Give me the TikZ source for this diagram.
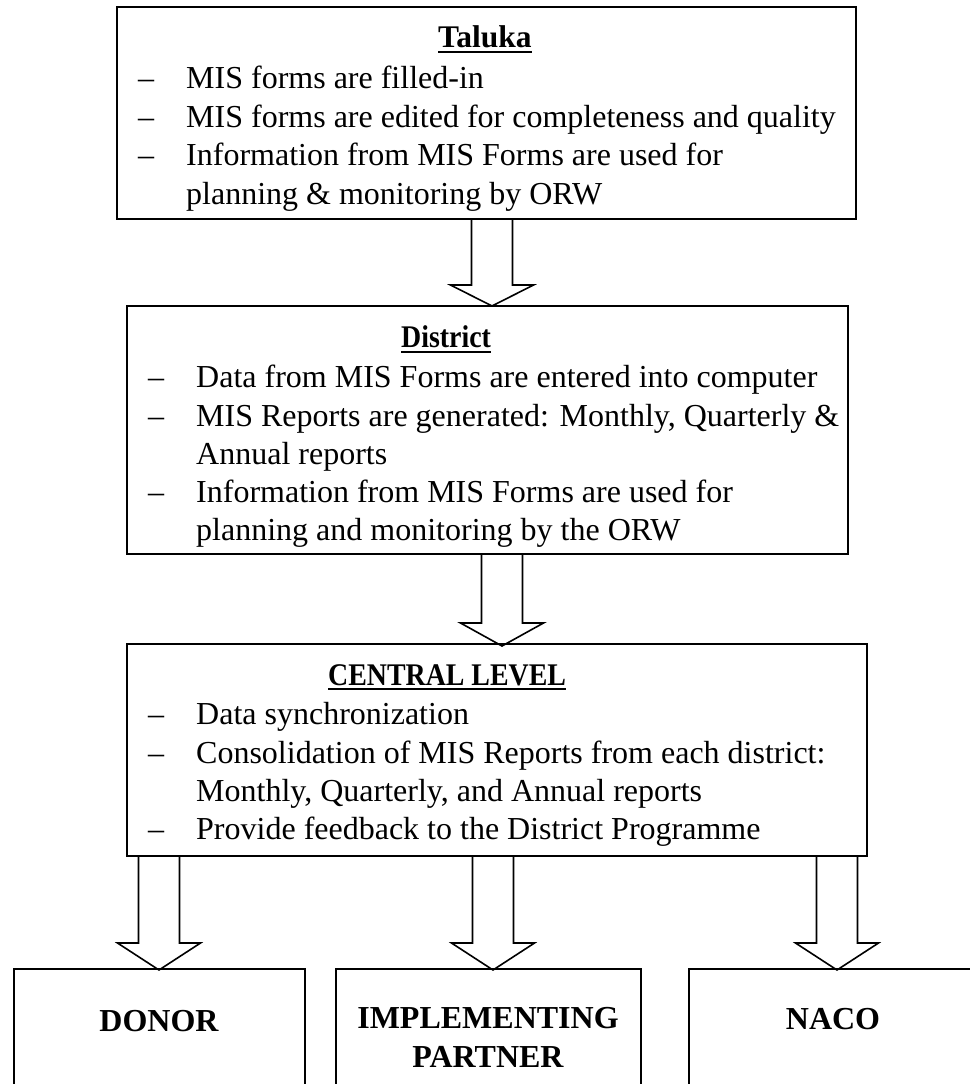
\documentclass[tikz,border=0pt]{standalone}
\usepackage{fontspec}
\setmainfont{Liberation Serif}
\newfontfamily\condserif{Liberation Serif}[FakeStretch=0.885]
\usetikzlibrary{calc}
\newcommand\blockarr[3]{% start coordinate, tip coordinate, head length
  \draw[arr] ([xshift=-20.5pt]#1) -- ([xshift=-20.5pt,yshift=#3]#2)
    -- ([xshift=-41.5pt,yshift=#3]#2) -- (#2)
    -- ([xshift=41.5pt,yshift=#3]#2) -- ([xshift=20.5pt,yshift=#3]#2)
    -- ([xshift=20.5pt]#1);}
\begin{document}
\begin{tikzpicture}[x=1pt,y=-1pt,
  box/.style={draw=black, line width=2.1pt, inner sep=0pt},
  arr/.style={draw=black, line width=1.6pt, fill=white, line join=miter},
  body/.style={anchor=base west, inner sep=0pt, font=\fontsize{32}{38}\selectfont},
  dashmark/.style={anchor=base west, inner sep=0pt, font=\fontsize{32}{38}\selectfont},
  ttl/.style={anchor=base west, inner sep=0pt, font=\fontsize{31.5}{36}\selectfont\condserif\bfseries},
  tttl/.style={anchor=base west, inner sep=0pt, font=\fontsize{31.5}{36}\selectfont\bfseries},
  ulin/.style={draw=black, line width=2.2pt},
  big/.style={anchor=base, inner sep=0pt, font=\fontsize{32}{38}\selectfont\bfseries},
  ]
\useasboundingbox (0,0) rectangle (969,1084);
\fill[white] (0,0) rectangle (969,1084);

% arrow end points
\coordinate (a1s) at (492,219);  \coordinate (a1e) at (492,306);
\coordinate (a2s) at (502,554);  \coordinate (a2e) at (502,646);
\coordinate (a3s) at (159,856);  \coordinate (a3e) at (159,970);
\coordinate (a4s) at (493,856);  \coordinate (a4e) at (493,970);
\coordinate (a5s) at (837,856);  \coordinate (a5e) at (837,970);

\blockarr{a1s}{a1e}{21pt}
\blockarr{a2s}{a2e}{23pt}
\blockarr{a3s}{a3e}{27pt}
\blockarr{a4s}{a4e}{27pt}
\blockarr{a5s}{a5e}{27pt}

% main boxes
\node[box, minimum width=739pt, minimum height=212pt] (taluka) at (486.5,113) {};
\node[box, minimum width=721pt, minimum height=248pt] (district) at (487.5,430) {};
\node[box, minimum width=740pt, minimum height=212pt] (central) at (497,750) {};

% bottom boxes (open below the page edge)
\node[box, minimum width=291pt, minimum height=140pt] (donor) at (159.5,1039) {};
\node[box, minimum width=305pt, minimum height=140pt] (partner) at (488.5,1039) {};
\node[box, minimum width=311pt, minimum height=140pt] (naco) at (844.5,1039) {};

% Taluka
\node[tttl] (t0) at (438,47) {Taluka};
\draw[ulin] ([yshift=-5pt]t0.base west) -- ([yshift=-5pt]t0.base east);
\node[dashmark] (td1) at (138,88) {–};
\node[body] (t1) at (186,88) {MIS forms are filled-in};
\node[dashmark] (td2) at (138,127) {–};
\node[body] (t2) at (186,127) {MIS forms are edited for completeness and quality};
\node[dashmark] (td3) at (138,165) {–};
\node[body] (t3) at (186,165) {Information from MIS Forms are used for};
\node[body] (t4) at (186,204) {planning \& monitoring by ORW};

% District
\node[ttl] (d0) at (401,347) {District};
\draw[ulin] ([yshift=-5pt]d0.base west) -- ([yshift=-5pt]d0.base east);
\node[dashmark] (dd1) at (148,387) {–};
\node[body] (d1) at (196,387) {Data from MIS Forms are entered into computer};
\node[dashmark] (dd2) at (148,426) {–};
\node[body] (d2) at (196,426) {MIS Reports are generated: Monthly, Quarterly \&};
\node[body] (d3) at (196,464) {Annual reports};
\node[dashmark] (dd4) at (148,502) {–};
\node[body] (d4) at (196,502) {Information from MIS Forms are used for};
\node[body] (d5) at (196,540) {planning and monitoring by the ORW};

% Central
\node[ttl] (c0) at (328,685) {CENTRAL LEVEL};
\draw[ulin] ([yshift=-4pt]c0.base west) -- ([yshift=-4pt]c0.base east);
\node[dashmark] (cd1) at (148,724) {–};
\node[body] (c1) at (196,724) {Data synchronization};
\node[dashmark] (cd2) at (148,763) {–};
\node[body] (c2) at (196,763) {Consolidation of MIS Reports from each district:};
\node[body] (c3) at (196,801) {Monthly, Quarterly, and Annual reports};
\node[dashmark] (cd4) at (148,839) {–};
\node[body] (c4) at (196,839) {Provide feedback to the District Programme};

% bottom labels
\node[big] (l1) at (159,1031) {DONOR};
\node[big] (l2) at (488,1028) {IMPLEMENTING};
\node[big] (l3) at (488,1067) {PARTNER};
\node[big] (l4) at (833,1029) {NACO};
\end{tikzpicture}
\end{document}
